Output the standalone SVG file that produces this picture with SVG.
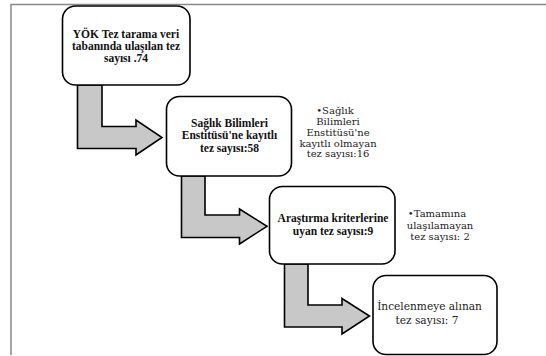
<svg xmlns="http://www.w3.org/2000/svg" width="546" height="356" viewBox="0 0 546 356">
  <style>
    .box { fill: #ffffff; stroke: #000000; stroke-width: 1.6; }
    .arrow { fill: #c8c8c8; stroke: #000000; stroke-width: 1.6; stroke-linejoin: miter; }
    .frame { fill: none; stroke: #888888; stroke-width: 1.5; }
    .tb { font-family: "Liberation Serif", "Times New Roman", serif; font-weight: bold; font-size: 11.5px; fill: #111111; text-anchor: middle; }
    .tr { font-family: "DejaVu Serif", "Liberation Serif", serif; font-size: 10px; fill: #222222; text-anchor: middle; }
  </style>
  <rect width="546" height="356" fill="#ffffff"/>
  <path class="frame" d="M11,355 V4.5 H546"/>

  <g id="connectors">
    <path class="arrow" d="M77.5,85 H102 V126.5 H136 V120 L162,137.5 L136,155 V148.5 H77.5 Z"/>
    <path class="arrow" d="M181.5,176 H205 V215 H239.5 V209 L267,226.3 L239.5,244 V237.5 H181.5 Z"/>
    <path class="arrow" d="M284.5,264 H308 V305 H342 V298.5 L369.5,316 L342,334 V327 H284.5 Z"/>
  </g>

  <g id="box1">
    <rect class="box" x="62.5" y="6" width="127.5" height="79" rx="13"/>
    <text class="tb" x="126" y="37.5">YÖK Tez tarama veri</text>
    <text class="tb" x="126" y="49.8">tabanında ulaşılan tez</text>
    <text class="tb" x="126" y="62">sayısı .74</text>
  </g>

  <g id="box2">
    <rect class="box" x="166.5" y="96.5" width="125" height="79.5" rx="13"/>
    <text class="tb" x="229.5" y="126.8">Sağlık Bilimleri</text>
    <text class="tb" x="229.5" y="139.3">Enstitüsü'ne kayıtlı</text>
    <text class="tb" x="229.5" y="151.7">tez sayısı:58</text>
  </g>

  <g id="note1">
    <text class="tr" x="335" y="114">•Sağlık</text>
    <text class="tr" x="338" y="125">Bilimleri</text>
    <text class="tr" x="338" y="136">Enstitüsü'ne</text>
    <text class="tr" x="338" y="146.5">kayıtlı olmayan</text>
    <text class="tr" x="338" y="157.3">tez sayısı:16</text>
  </g>

  <g id="box3">
    <rect class="box" x="269.5" y="186.5" width="125.5" height="77.5" rx="13"/>
    <text class="tb" x="333" y="222.3">Araştırma kriterlerine</text>
    <text class="tb" x="333" y="235">uyan tez sayısı:9</text>
  </g>

  <g id="note2">
    <text class="tr" x="437" y="216.7">•Tamamına</text>
    <text class="tr" x="440" y="228.5">ulaşılamayan</text>
    <text class="tr" x="440" y="240.3">tez sayısı: 2</text>
  </g>

  <g id="box4">
    <rect class="box" x="373" y="275.5" width="124" height="79" rx="13"/>
    <text class="tr" x="429.5" y="309.7" style="font-size:10.6px">İncelenmeye alınan</text>
    <text class="tr" x="427" y="323.7" style="font-size:10.6px">tez sayısı: 7</text>
  </g>
</svg>
